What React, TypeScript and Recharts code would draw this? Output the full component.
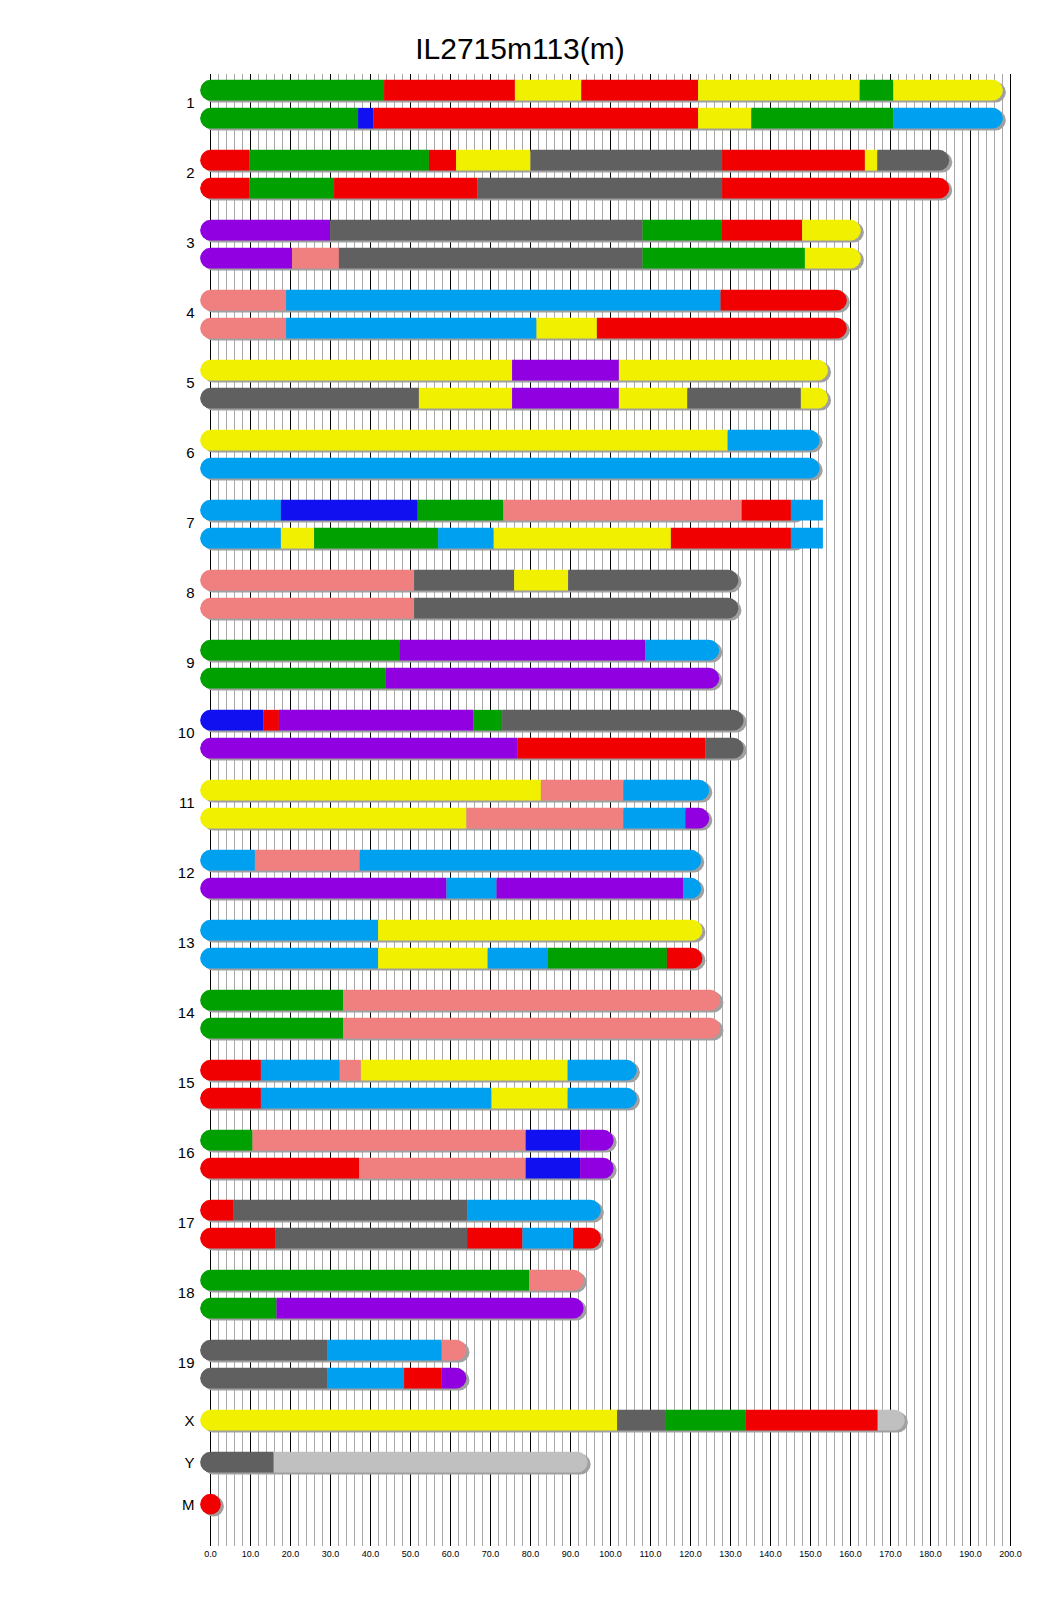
import React from 'react';
import { BarChart, Bar, XAxis, YAxis, CartesianGrid } from 'recharts';

type Seg = [number, string];

// chromosome names and lengths (Mb)
const chromNames = ['1', '2', '3', '4', '5', '6', '7', '8', '9', '10', '11', '12', '13', '14', '15', '16', '17', '18', '19'];
const chromLengths = [195.5, 182.1, 160.0, 156.5, 151.8, 149.7, 145.4, 129.4, 124.6, 130.7, 122.1, 120.1, 120.4, 124.9, 104.0, 98.2, 95.0, 90.7, 61.4];

// haplotype segments: [end (Mb), founder colour]
const chr1: Seg[][] = [
  [[43.4, 'G'], [76.1, 'R'], [92.7, 'Y'], [121.9, 'R'], [162.3, 'Y'], [170.7, 'G'], [195.5, 'Y']],
  [[36.9, 'G'], [40.7, 'B'], [121.9, 'R'], [135.2, 'Y'], [170.7, 'G'], [195.5, 'L']],
];
const chr2: Seg[][] = [
  [[9.7, 'R'], [54.6, 'G'], [61.4, 'R'], [80.0, 'Y'], [127.9, 'K'], [163.6, 'R'], [166.7, 'Y'], [182.1, 'K']],
  [[9.7, 'R'], [30.9, 'G'], [66.7, 'R'], [127.9, 'K'], [182.1, 'R']],
];
const chr3: Seg[][] = [
  [[29.9, 'P'], [108.0, 'K'], [127.7, 'G'], [147.9, 'R'], [160.0, 'Y']],
  [[20.4, 'P'], [32.1, 'S'], [108.0, 'K'], [148.6, 'G'], [160.0, 'Y']],
];
const chr4: Seg[][] = [
  [[18.9, 'S'], [127.5, 'L'], [156.5, 'R']],
  [[18.9, 'S'], [81.5, 'L'], [96.6, 'Y'], [156.5, 'R']],
];
const chr5: Seg[][] = [
  [[75.4, 'Y'], [102.1, 'P'], [151.8, 'Y']],
  [[52.1, 'K'], [75.4, 'Y'], [102.1, 'P'], [119.2, 'Y'], [147.6, 'K'], [151.8, 'Y']],
];
const chr6: Seg[][] = [
  [[129.3, 'Y'], [149.7, 'L']],
  [[149.7, 'L']],
];
const chr7: Seg[][] = [
  [[17.6, 'L'], [51.8, 'B'], [73.2, 'G'], [132.8, 'S'], [145.1, 'R'], [153.1, 'L']],
  [[17.6, 'L'], [25.9, 'Y'], [56.9, 'G'], [70.8, 'L'], [115.1, 'Y'], [145.1, 'R'], [153.1, 'L']],
];
const chr8: Seg[][] = [
  [[50.9, 'S'], [75.9, 'K'], [89.4, 'Y'], [129.4, 'K']],
  [[50.9, 'S'], [129.4, 'K']],
];
const chr9: Seg[][] = [
  [[47.2, 'G'], [108.7, 'P'], [124.6, 'L']],
  [[43.75, 'G'], [124.6, 'P']],
];
const chr10: Seg[][] = [
  [[13.2, 'B'], [17.1, 'R'], [65.7, 'P'], [72.9, 'G'], [130.7, 'K']],
  [[76.7, 'P'], [123.7, 'R'], [130.7, 'K']],
];
const chr11: Seg[][] = [
  [[82.6, 'Y'], [103.2, 'S'], [122.1, 'L']],
  [[64.0, 'Y'], [103.2, 'S'], [118.7, 'L'], [122.1, 'P']],
];
const chr12: Seg[][] = [
  [[11.1, 'L'], [37.3, 'S'], [120.1, 'L']],
  [[59.0, 'P'], [71.5, 'L'], [118.2, 'P'], [120.1, 'L']],
];
const chr13: Seg[][] = [
  [[41.9, 'L'], [120.4, 'Y']],
  [[41.9, 'L'], [69.3, 'Y'], [84.3, 'L'], [114.1, 'G'], [120.4, 'R']],
];
const chr14: Seg[][] = [
  [[33.15, 'G'], [124.9, 'S']],
  [[33.15, 'G'], [124.9, 'S']],
];
const chr15: Seg[][] = [
  [[12.6, 'R'], [32.3, 'L'], [37.6, 'S'], [89.3, 'Y'], [104.0, 'L']],
  [[12.6, 'R'], [70.25, 'L'], [89.3, 'Y'], [104.0, 'L']],
];
const chr16: Seg[][] = [
  [[10.5, 'G'], [78.8, 'S'], [92.4, 'B'], [98.2, 'P']],
  [[37.15, 'R'], [78.8, 'S'], [92.4, 'B'], [98.2, 'P']],
];
const chr17: Seg[][] = [
  [[5.65, 'R'], [64.15, 'K'], [95.0, 'L']],
  [[16.3, 'R'], [64.15, 'K'], [78.0, 'R'], [90.65, 'L'], [95.0, 'R']],
];
const chr18: Seg[][] = [
  [[79.65, 'G'], [90.7, 'S']],
  [[16.5, 'G'], [90.7, 'P']],
];
const chr19: Seg[][] = [
  [[29.15, 'K'], [57.8, 'L'], [61.4, 'S']],
  [[29.15, 'K'], [48.4, 'L'], [57.8, 'R'], [61.4, 'P']],
];
const autosomes = [chr1, chr2, chr3, chr4, chr5, chr6, chr7, chr8, chr9, chr10, chr11, chr12, chr13, chr14, chr15, chr16, chr17, chr18, chr19];

const chrX: Seg[] = [[101.65, 'Y'], [113.65, 'K'], [133.8, 'G'], [166.8, 'R'], [171.0, 'W']];
const chrY: Seg[] = [[15.8, 'K'], [91.7, 'W']];
const chrM: Seg[] = [[0.016, 'R']];
const sexNames = ['X', 'Y', 'M'];
const sexLengths = [171.0, 91.7, 0.016];

const xTicks = [0, 10, 20, 30, 40, 50, 60, 70, 80, 90, 100, 110, 120, 130, 140, 150, 160, 170, 180, 190, 200];

const palette: Record<string, string> = {
  G: '#00a000',
  R: '#f00000',
  Y: '#f0f000',
  K: '#606060',
  B: '#1010f0',
  P: '#9000e0',
  S: '#f08080',
  L: '#00a0f0',
  W: '#c0c0c0',
};

// build one row per haplotype, with empty spacer rows between chromosomes
const rows: any[] = [];
const pushRow = (label: string, segs: Seg[], len: number) => {
  const row: any = { id: `r${rows.length}`, label, len, segs };
  let prev = 0;
  segs.forEach(([end], i) => {
    row[`s${i}`] = end - prev;
    prev = end;
  });
  rows.push(row);
};
autosomes.forEach((pair, k) => {
  pushRow('', pair[0], chromLengths[k]);
  pushRow(chromNames[k], [], 0);
  pushRow('', pair[1], chromLengths[k]);
  pushRow('', [], 0);
  pushRow('', [], 0);
});
[chrX, chrY, chrM].forEach((segs, k) => {
  pushRow(sexNames[k], segs, sexLengths[k]);
  if (k < 2) {
    pushRow('', [], 0);
    pushRow('', [], 0);
  }
});

const maxSegs = Math.max(...rows.map((r) => r.segs.length));
const segKeys = Array.from({ length: maxSegs }, (_, i) => `s${i}`);

const minorGrid = Array.from({ length: 101 }, (_, i) => i * 2).filter((v) => v % 10 !== 0);

const BAR_H = 20.7;
const R = BAR_H / 2;

function makeShape(k: number) {
  return (props: any) => {
    const { x, y, width, height, payload } = props;
    const segs: Seg[] = payload?.segs || [];
    const v = payload?.[`s${k}`];
    if (k >= segs.length || !(width > 0) || !(v > 0)) return <g />;
    const ppu = width / v;
    const start = k === 0 ? 0 : segs[k - 1][0];
    const x0 = x - start * ppu;
    const xL = x0 + payload.len * ppu;
    const cy = y + height / 2;
    const top = cy - R;
    const bottom = cy + R;
    const first = k === 0;
    const last = k === segs.length - 1 && segs[k][0] <= payload.len + 0.01;
    const left = first ? x0 : x;
    const right = last ? xL : x + width;
    let d = `M${left},${top} H${right}`;
    d += last ? ` A${R},${R} 0 0 1 ${right},${bottom}` : ` V${bottom}`;
    d += ` H${left}`;
    d += first ? ` A${R},${R} 0 0 1 ${left},${top}` : ` V${top}`;
    d += ' Z';
    const color = palette[segs[k][1]];
    return (
      <g>
        {first && (
          <path
            d={`M${x0 + 3},${top + 2} H${xL + 3} A${R},${R} 0 0 1 ${xL + 3},${bottom + 2} H${x0 + 3} A${R},${R} 0 0 1 ${x0 + 3},${top + 2} Z`}
            fill="#a0a0a0"
          />
        )}
        <path d={d} fill={color} />
      </g>
    );
  };
}

const ChromTick = (props: any) => {
  const { x, y, index } = props;
  const row = rows[index];
  const label = row?.label ?? '';
  if (!label) return <g />;
  // autosome labels sit between two haplotype rows; X/Y/M labels sit on their single row
  const dy = row.segs.length ? 5.8 : 3.8;
  return (
    <text x={x} y={y} dy={dy} textAnchor="end" fontSize={15} fill="#000">
      {label}
    </text>
  );
};

export default function App() {
  return (
    <div style={{ position: 'absolute', left: 0, top: 0, width: 1040, height: 1616, background: '#fff' }}>
      <div
        style={{
          position: 'absolute',
          left: 0,
          top: 31.5,
          width: 1040,
          textAlign: 'center',
          fontFamily: '"Liberation Sans", Arial, sans-serif',
          fontSize: 30,
          lineHeight: '34px',
          color: '#000',
        }}
      >
        IL2715m113(m)
      </div>
      <BarChart
        width={1040}
        height={1616}
        data={rows}
        layout="vertical"
        margin={{ top: 74, right: 29.5, bottom: 40, left: 180.5 }}
        style={{ fontFamily: '"Liberation Sans", Arial, sans-serif' }}
      >
        <CartesianGrid horizontal={false} verticalValues={minorGrid} stroke="#a8a8a8" strokeWidth={1} />
        <CartesianGrid horizontal={false} verticalValues={xTicks} stroke="#000" strokeWidth={1} />
        <XAxis
          type="number"
          domain={[0, 200]}
          ticks={xTicks}
          interval={0}
          tickFormatter={(v: number) => v.toFixed(1)}
          axisLine={false}
          tickLine={false}
          tickSize={0}
          tickMargin={5}
          height={30}
          tick={{ fontSize: 9, fill: '#000' }}
        />
        <YAxis
          type="category"
          dataKey="id"
          width={30}
          interval={0}
          axisLine={false}
          tickLine={false}
          tickSize={0}
          tickMargin={16}
          padding={{ top: 9.3, bottom: 34.7 }}
          tick={<ChromTick />}
        />
        {segKeys.map((key, k) => (
          <Bar key={key} dataKey={key} stackId="chr" isAnimationActive={false} shape={makeShape(k)} />
        ))}
      </BarChart>
    </div>
  );
}
